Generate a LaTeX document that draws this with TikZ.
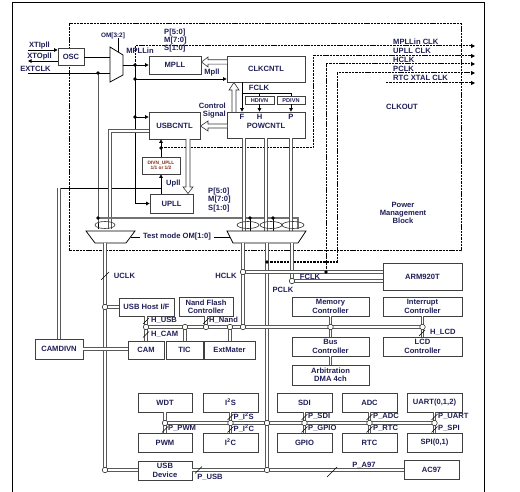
\documentclass[tikz,border=0pt]{standalone}
\usepackage{fontspec}
\setmainfont{Liberation Sans}
\usetikzlibrary{arrows.meta,calc}
\definecolor{txt}{rgb}{0.12,0.12,0.35}
\definecolor{brn}{rgb}{0.5,0.18,0.1}
\definecolor{busgray}{rgb}{0.35,0.35,0.35}
\newcommand\lbf{\fontsize{7.6}{8.4}\selectfont\bfseries}
\newcommand\omf{\fontsize{6.4}{7}\selectfont\bfseries}
\newcommand\smf{\fontsize{5.6}{6.2}\selectfont\bfseries}
\newcommand\xsf{\fontsize{4.8}{5.6}\selectfont\bfseries}
\newcommand\bx[7][]{\node[box,minimum width={(#5)-(#3)},minimum height={(#6)-(#4)},#1] (#2) at ({((#3)+(#5))/2},{((#4)+(#6))/2}) {#7};}
\newcommand\slh[3][3]{\draw[sl] ({#2-#1},{#3+#1}) -- ({#2+#1},{#3-#1});}
\newcommand\busdraw[1]{\draw[busout] #1; \draw[busin] #1;}
\tikzset{
 box/.style={draw=black!75,line width=0.7pt,fill=white,inner sep=0pt,font=\lbf,text=txt,align=center},
 lbl/.style={font=\lbf,text=txt,inner sep=0pt},
 ln/.style={draw=black,line width=0.75pt},
 arr/.style={ln,-{Triangle[length=3.6pt,width=3.6pt]}},
 busout/.style={draw=busgray,line width=3.4pt},
 busin/.style={draw=white,line width=1.4pt},
 dsh/.style={draw=black,line width=1pt,dash pattern=on 2.4pt off 0.9pt},
 dsharr/.style={dsh,-{Triangle[length=4pt,width=4pt]}},
 hol/.style={draw=black!80,fill=white,line width=0.6pt,line join=miter},
 circ/.style={circle,draw=black!80,fill=white,minimum size=5.5pt,inner sep=0pt,line width=0.6pt},
 fdot/.style={circle,fill=black,minimum size=3.6pt,inner sep=0pt},
 sl/.style={draw=black,line width=0.7pt},
 ell/.style={draw=black!80,line width=0.6pt},
}
\begin{document}
\begin{tikzpicture}[x=1pt,y=-1pt]
\useasboundingbox (0,0) rectangle (520,492);
\fill[white] (0,0) rectangle (520,492);
\draw[line width=0.8pt] (12,492) -- (12,2) -- (484,2) -- (484,492);
\draw[dsh] (69,24) rectangle (461,251);

% ---------- junction coordinates ----------
\coordinate (xti) at (28,50);
\coordinate (xto) at (28,61);
\coordinate (extin) at (28,73);
\coordinate (ej) at (98,73);
\coordinate (ek) at (98,218);
\coordinate (m1a) at (110,57);
\coordinate (m1b) at (110,73);
\coordinate (m1o) at (123,65);
\coordinate (j1) at (135,65);
\coordinate (j2) at (135,79);
\coordinate (j3) at (135,117);
\coordinate (fx) at (242,82);
\coordinate (fy) at (242,93);
\coordinate (uj) at (161,148);
\coordinate (uk) at (161,188);
\coordinate (ul) at (59,188);
\coordinate (hj) at (326,272);
\coordinate (pj) at (267,262);
\coordinate (dA) at (250,218);
\coordinate (dB) at (273,218);
\coordinate (dC) at (298,218);
\coordinate (u1) at (105,307);
\coordinate (u2) at (105,470);
\coordinate (hc) at (243,272);
\coordinate (fc) at (292,281);
\coordinate (h1) at (146,327);
\coordinate (h2) at (185,327);
\coordinate (h3) at (206,327);
\coordinate (h4) at (230,327);
\coordinate (hb) at (243,327);
\coordinate (h5) at (330.5,327);
\coordinate (h6) at (422.5,327);
\coordinate (p1) at (165,423);
\coordinate (p2) at (230.5,423);
\coordinate (pc1) at (267,423);
\coordinate (p3) at (304.5,423);
\coordinate (p4) at (369.5,423);
\coordinate (p5) at (434.5,423);
\coordinate (pc2) at (267,470);

% ---------- dashed clock outputs ----------
\draw[dsharr] (j1) -- (135,46) -- (475,46);
\draw[dsharr] (uj) -- (313,148) -- (313,56) -- (475,56);
\draw[dsharr] (hj) -- (326,64) -- (475,64);
\draw[dsharr] (pj) -- (337,262) -- (337,73) -- (475,73);
\draw[dsharr] (386,83) -- (475,83);
\node[lbl,anchor=base west] at (393,44.3) {MPLLin CLK};
\node[lbl,anchor=base west] at (393,53.5) {UPLL CLK};
\node[lbl,anchor=base west] at (393,62.3) {HCLK};
\node[lbl,anchor=base west] at (393,71.5) {PCLK};
\node[lbl,anchor=base west] at (393,81) {RTC XTAL CLK};
\node[lbl] at (402,107) {CLKOUT};
\node[lbl,align=center,font=\lbf\linespread{0.95}\selectfont] at (403,213) {Power\\Management\\Block};

% ---------- boxes ----------
\bx{osc}{58}{48}{84}{65}{OSC}
\bx{mpll}{149}{56}{201}{74}{MPLL}
\bx{clk}{227}{56}{305}{82}{CLKCNTL}
\bx[font=\smf]{hdivn}{245}{96.5}{274}{104}{HDIVN}
\bx[font=\smf]{pdivn}{277}{96.5}{305}{104}{PDIVN}
\bx{pow}{227}{112}{305}{138}{}
\bx{usbc}{149}{112}{200}{139}{USBCNTL}
\bx[font=\xsf,text=brn]{divn}{142}{157}{180}{174}{DIVN\_UPLL\\1/1 or 1/2}
\bx{upll}{150}{194}{193}{213}{UPLL}
\bx{arm}{383}{263}{462}{290}{ARM920T}
\bx{memc}{292}{297}{369}{316}{Memory\\Controller}
\bx{intc}{383}{297}{462}{316}{Interrupt\\Controller}
\bx{busc}{292}{337}{369}{356}{Bus\\Controller}
\bx{lcdc}{383}{337}{462}{356}{LCD\\Controller}
\bx{dma}{292}{365}{369}{385}{Arbitration\\DMA 4ch}
\bx{usbh}{119}{298}{174}{316}{USB Host I/F}
\bx{nand}{179}{297}{233}{316}{Nand Flash\\Controller}
\bx{cam}{128}{341}{164}{359}{CAM}
\bx{tic}{166}{341}{203}{359}{TIC}
\bx{ext}{204}{341}{255}{359}{ExtMater}
\bx{camd}{35}{339}{83}{359}{CAMDIVN}
\bx{wdt}{138}{393}{192}{412}{WDT}
\bx{i2s}{203}{393}{258}{412}{I\textsuperscript{2}S}
\bx{pwm}{138}{433}{192}{452}{PWM}
\bx{i2c}{203}{433}{258}{452}{I\textsuperscript{2}C}
\bx{sdi}{277}{393}{332}{412}{SDI}
\bx{adc}{342}{393}{397}{412}{ADC}
\bx{uart}{407}{393}{462}{412}{UART(0,1,2)}
\bx{gpio}{277}{433}{332}{452}{GPIO}
\bx{rtc}{342}{433}{397}{452}{RTC}
\bx{spi}{407}{433}{462}{452}{SPI(0,1)}
\bx{usbd}{138}{461}{192}{480}{USB\\Device}
\bx{ac97}{404}{460}{459}{479}{AC97}

% ---------- oscillator inputs ----------
\draw[arr] (xti) -- (xti -| osc.west);
\draw[arr] (osc.west |- xto) -- (xto);
\node[lbl] at (39.5,45.5) {XTIpll};
\node[lbl] at (39.5,56.5) {XTOpll};
\node[lbl] at (35.5,68.5) {EXTCLK};
\draw[ln] (osc.east |- m1a) -- (m1a);
\draw[ln] (extin) -- (m1b);
\draw[ln] (ej) -- (ek) -- (98,229);

% ---------- OM[3:2] mux ----------
\draw[ln,fill=white] (110,47) -- (123,55) -- (123,75) -- (110,82) -- cycle;
\node[lbl,font=\omf] (om32) at (113,35.5) {OM[3:2]};
\draw[ln] (118,38.5) -- (118,51.8);
\draw[ln] (m1o) -- (j1);
\draw[arr] (j1) -- (mpll.west);
\draw[arr] (j1) |- (upll.west);
\draw[arr] (j2) -- (j2 -| clk.west);
\draw[arr] (j3) -- (j3 -| usbc.west);
\node[lbl] at (140,50.5) {MPLLin};
\node[lbl] at (212,73) {Mpll};
\node[lbl,anchor=west] at (164,32.5) {P[5:0]};
\node[lbl,anchor=west] at (164,40.5) {M[7:0]};
\node[lbl,anchor=west] at (164,48.5) {S[1:0]};

% ---------- CLKCNTL / POWCNTL ----------
\draw[hol] (227,59.8) -- (208,59.8) -- (208,57) -- (201.5,62) -- (208,67) -- (208,64.2) -- (227,64.2);
\draw[hol] (232,112) -- (232,90) -- (229,90) -- (234,82.5) -- (239,90) -- (236,90) -- (236,112);
\draw[hol] (227,124) -- (208,124) -- (208,121) -- (200.5,126) -- (208,131) -- (208,128) -- (227,128);
\draw[arr] (fx) -- (fx |- pow.north);
\draw[ln] (fy) -| (hdivn.north);
\draw[ln] (fy) -| (pdivn.north);
\draw[arr] (hdivn.south) -- (hdivn.south |- pow.north);
\draw[arr] (pdivn.south) -- (pdivn.south |- pow.north);
\node[lbl] at (259,88) {FCLK};
\node[lbl] at (242,116.5) {F};
\node[lbl] at (259.5,116.5) {H};
\node[lbl] at (291,116.5) {P};
\node[lbl] at (266,125.5) {POWCNTL};
\node[lbl,anchor=east] at (226,106) {Control};
\node[lbl,anchor=east] at (226,115) {Signal};

% ---------- USBCNTL / UPLL ----------
\draw[hol] (186,139) -- (186,187) -- (183,187) -- (188,193.5) -- (193,187) -- (190,187) -- (190,139);
\draw[arr] (divn.south |- upll.north) -- (divn.south);
\draw[arr] (divn.north) -- (divn.north |- usbc.south);
\draw[ln] (uk) -- (ul);
\busdraw{(ul) -- (camd.north)}
\node[lbl,anchor=west] at (166,184) {Upll};
\node[lbl,anchor=west] at (208,191.5) {P[5:0]};
\node[lbl,anchor=west] at (208,200) {M[7:0]};
\node[lbl,anchor=west] at (208,208.5) {S[1:0]};
\busdraw{(usbc.west |- 110,131) -- (110,131) -- (110,229)}

% ---------- test mode muxes ----------
\draw[draw=black!55,line width=1.1pt] (ek) -- (dC) -- (298,229);
\draw[ln] (dA) -- (250,231);
\draw[ln] (dB) -- (273,231);
\busdraw{(pow.south -| 244,0) -- (244,231)}
\busdraw{(pow.south -| 266,0) -- (266,231)}
\busdraw{(pow.south -| 291,0) -- (291,231)}
\draw[ln,fill=white] (86,231) -- (135,231) -- (126,243) -- (95,243) -- cycle;
\draw[ln,fill=white] (227,231) -- (306,231) -- (298,243) -- (233,243) -- cycle;
\draw[ell] (105,225) ellipse [x radius=10, y radius=3.5];
\draw[ell] (248,225) ellipse [x radius=11, y radius=3.5];
\draw[ell] (271,225) ellipse [x radius=11, y radius=3.5];
\draw[ell] (293,225) ellipse [x radius=11, y radius=3.5];
\node[lbl,inner xsep=2.5pt] (tm) at (177,237) {Test mode OM[1:0]};
\draw[ln] (131,237) -- (tm.west);
\draw[ln] (tm.east) -- (229.5,237);

% ---------- clock distribution ----------
\busdraw{(105,243) -- (u2)}
\busdraw{(243,243) -- (hb)}
\busdraw{(267,243) -- (pc2)}
\busdraw{(292,243) -- (fc)}
\busdraw{(hc) -- (hc -| arm.west)}
\busdraw{(fc) -- (fc -| arm.west)}
\slh[4]{105}{276}
\node[lbl] at (124.5,276) {UCLK};
\node[lbl] at (226,276) {HCLK};
\node[lbl] at (310,277) {FCLK};
\node[lbl] at (283,290) {PCLK};

% ---------- AHB ----------
\busdraw{(u1) -- (u1 -| usbh.west)}
\busdraw{(camd.east) -- (camd.east -| cam.west)}
\busdraw{(h1) -- (h6)}
\busdraw{(h1 |- usbh.south) -- (h1 |- cam.north)}
\busdraw{(h2) -- (h2 |- tic.north)}
\busdraw{(h3 |- nand.south) -- (h3)}
\busdraw{(h4) -- (h4 |- ext.north)}
\busdraw{(h5 |- memc.south) -- (h5 |- busc.north)}
\busdraw{(h5 |- busc.south) -- (h5 |- dma.north)}
\busdraw{(h6 |- intc.south) -- (h6 |- lcdc.north)}
\slh{146}{321}
\slh{146}{334.5}
\slh{206}{321}
\slh{422}{333}
\node[lbl,anchor=west] at (151,320.5) {H\_USB};
\node[lbl,anchor=west] at (151,334) {H\_CAM};
\node[lbl,anchor=west] at (209,320.5) {H\_Nand};
\node[lbl,anchor=west] at (430,332) {H\_LCD};

% ---------- APB ----------
\busdraw{(p1) -- (p5)}
\busdraw{(wdt.south) -- (pwm.north)}
\busdraw{(i2s.south) -- (i2c.north)}
\busdraw{(sdi.south) -- (gpio.north)}
\busdraw{(adc.south) -- (rtc.north)}
\busdraw{(uart.south) -- (spi.north)}
\slh{165}{429.5}
\slh{230.5}{417}\slh{230.5}{429.5}
\slh{304.5}{417}\slh{304.5}{429.5}
\slh{369.5}{417}\slh{369.5}{429.5}
\slh{434.5}{417}\slh{434.5}{429.5}
\node[lbl,anchor=west] at (168,428.5) {P\_PWM};
\node[lbl,anchor=west] at (233.5,416.5) {P\_I\textsuperscript{2}S};
\node[lbl,anchor=west] at (233.5,428.5) {P\_I\textsuperscript{2}C};
\node[lbl,anchor=west] at (308,416.5) {P\_SDI};
\node[lbl,anchor=west] at (308,428.5) {P\_GPIO};
\node[lbl,anchor=west] at (373,416.5) {P\_ADC};
\node[lbl,anchor=west] at (373,428.5) {P\_RTC};
\node[lbl,anchor=west] at (438,416.5) {P\_UART};
\node[lbl,anchor=west] at (438,428.5) {P\_SPI};
\busdraw{(u2) -- (u2 -| usbd.west)}
\busdraw{(usbd.east |- u2) -- (u2 -| ac97.west)}
\slh[3.5]{198.5}{470}
\slh[5]{332}{472}
\node[lbl] at (210,477) {P\_USB};
\node[lbl] at (364,465.5) {P\_A97};

% ---------- dots and circles ----------
\foreach \c in {j1,j2,j3,ej,ek,uj,hj,pj,dA,dB} \node[fdot] at (\c) {};
\foreach \c in {u1,u2,hc,fc,h1,h2,h3,h4,hb,h5,h6,p1,p2,pc1,p3,p4,p5,pc2} \node[circ] at (\c) {};
\end{tikzpicture}
\end{document}
